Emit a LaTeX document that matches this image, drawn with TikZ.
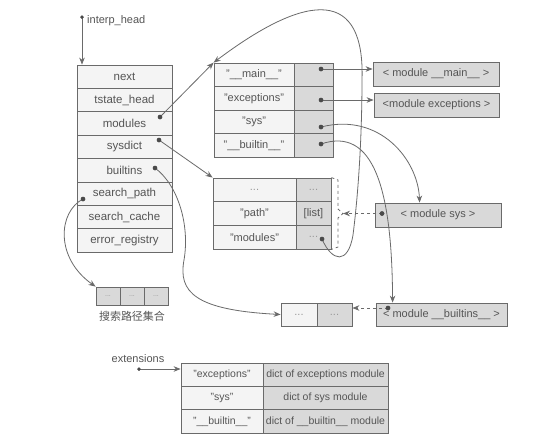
\documentclass[tikz,border=0pt]{standalone}
\usepackage{fontspec}
\setmainfont{Liberation Sans}
\newfontfamily\cjk{Noto Sans CJK SC}
\usetikzlibrary{arrows.meta}
\definecolor{linec}{HTML}{6A6A6A}
\definecolor{cellg}{HTML}{D9D9D9}
\definecolor{cellw}{HTML}{F4F4F4}
\definecolor{txt}{HTML}{555555}
\definecolor{dotc}{HTML}{4A4A4A}
\begin{document}
\begin{tikzpicture}[x=1pt,y=-1pt,
  cell/.style={draw=linec, line width=0.8pt, fill=cellw, inner sep=0pt, text=txt,
    font=\fontsize{11}{12}\selectfont},
  gcell/.style={cell, fill=cellg},
  ls/.style={cell, minimum width=95pt, minimum height=23.4pt, font=\fontsize{11.5}{12}\selectfont},
  mk/.style={cell, minimum width=80pt, minimum height=23.5pt},
  mv/.style={gcell, minimum width=39pt, minimum height=23.5pt},
  sk/.style={cell, minimum width=83pt, minimum height=23.67pt},
  sv/.style={gcell, minimum width=35pt, minimum height=23.67pt},
  modbox/.style={gcell, minimum height=24pt},
  sacell/.style={gcell, minimum width=24pt, minimum height=18pt, font=\fontsize{7}{8}\selectfont, text=txt!60},
  ek/.style={cell, minimum width=82pt, minimum height=23.33pt, font=\fontsize{10.5}{12}\selectfont},
  ev/.style={gcell, minimum width=125pt, minimum height=23.33pt, font=\fontsize{10.5}{12}\selectfont},
  dotn/.style={circle, fill=dotc, inner sep=0pt, minimum size=4.5pt},
  sdot/.style={circle, fill=dotc, inner sep=0pt, minimum size=3.5pt},
  lbl/.style={text=txt, font=\fontsize{11}{12}\selectfont, inner sep=0pt},
  arr/.style={draw=linec, line width=0.8pt, -{Stealth[length=7pt,width=5.5pt]}},
  darr/.style={arr, dashed},
]
\useasboundingbox[fill=white] (0,0) rectangle (547,445);

% interp head struct
\node[ls] (n1) at (124.5,76.7) {next};
\node[ls] (n2) at (124.5,100.1) {tstate\_head};
\node[ls] (n3) at (124.5,123.5) {modules};
\node[ls] (n4) at (124.5,146.9) {sysdict};
\node[ls] (n5) at (124.5,170.3) {builtins};
\node[ls] (n6) at (124.5,193.7) {search\_path};
\node[ls] (n7) at (124.5,217.1) {search\_cache};
\node[ls] (n8) at (124.5,240.5) {error\_registry};

\node[sdot] (ih) at (82,17) {};
\node[lbl, anchor=west] (ihl) at (87,21) {interp\_head};

% modules dict
\node[mk] (k1) at (254,74.75) {"\_\_main\_\_"};
\node[mk] (k2) at (254,98.25) {"exceptions"};
\node[mk] (k3) at (254,121.75) {"sys"};
\node[mk] (k4) at (254,145.25) {"\_\_builtin\_\_"};
\node[mv] (v1) at (313.5,74.75) {};
\node[mv] (v2) at (313.5,98.25) {};
\node[mv] (v3) at (313.5,121.75) {};
\node[mv] (v4) at (313.5,145.25) {};

% module objects
\node[modbox, minimum width=126pt] (mmain) at (436,74) {< module \_\_main\_\_ >};
\node[modbox, minimum width=125pt] (mexc) at (436.5,105) {<module exceptions >};
\node[modbox, minimum width=126pt] (msys) at (438,215) {< module sys >};
\node[modbox, minimum width=131pt, minimum height=23pt] (mblt) at (441.5,314.5) {< module \_\_builtins\_\_ >};

% sysdict
\node[sk] (s1k) at (254.5,189.8) {\textcolor{txt!60}{...}};
\node[sk] (s2k) at (254.5,213.5) {"path"};
\node[sk] (s3k) at (254.5,237.2) {"modules"};
\node[sv] (s1v) at (313.5,189.8) {\textcolor{txt!60}{...}};
\node[sv] (s2v) at (313.5,213.5) {[list]};
\node[sv] (s3v) at (313.5,237.2) {\textcolor{txt!60}{...}};

% builtins small dict
\node[cell, minimum width=36pt, minimum height=23pt] (bl) at (299,314.5) {\textcolor{txt!60}{...}};
\node[gcell, minimum width=35pt, minimum height=23pt] (br) at (334.5,314.5) {\textcolor{txt!60}{...}};

% search path array
\node[sacell] (sa1) at (108,296) {...};
\node[sacell] (sa2) at (132,296) {...};
\node[sacell] (sa3) at (156,296) {...};
\node[text=txt, inner sep=0pt, font=\cjk\fontsize{11}{12}\selectfont] (sal) at (132,316) {搜索路径集合};

% extensions
\node[lbl] (extl) at (138,359) {extensions};
\node[sdot] (edot) at (139,369) {};
\node[ek] (e1k) at (222,374.7) {"exceptions"};
\node[ek] (e2k) at (222,398) {"sys"};
\node[ek] (e3k) at (222,421.3) {"\_\_builtin\_\_"};
\node[ev] (e1v) at (325.5,374.7) {dict of exceptions module};
\node[ev] (e2v) at (325.5,398) {dict of sys module};
\node[ev] (e3v) at (325.5,421.3) {dict of \_\_builtin\_\_ module};

% dots
\node[dotn] (lmod) at (160,117) {};
\node[dotn] (lsys) at (159,140) {};
\node[dotn] (lblt) at (155,168) {};
\node[dotn] (lsp) at (83,199) {};
\node[dotn] (dm1) at (321,69) {};
\node[dotn] (dm2) at (321,100) {};
\node[dotn] (dm3) at (321,127) {};
\node[dotn] (dm4) at (321,144) {};
\node[dotn] (dsmod) at (322,239) {};
\node[dotn] (dsys) at (382,213.5) {};
\node[dotn] (dblt) at (388,308) {};
\coordinate (btip) at (343,213.5);

% connectors
\draw[arr] (ih.center) -- (ih |- n1.north);
\draw[arr] (lmod.center) -- (k1.north west);
\draw[arr] (lsys.center) -- (s1k.north west);
\draw[arr] (dm1.center) -- (dm1 -| mmain.west);
\draw[arr] (dm2.center) -- (dm2 -| mexc.west);
\draw[arr] (dm3.center) .. controls (380,112) and (418,160) .. ([xshift=45pt]msys.north west);
\draw[arr] (dm4.center) .. controls (374,126) and (392,190) .. ([xshift=17pt]mblt.north west);
\draw[arr] (dsmod.center) .. controls (332,262) and (348,265) .. (353,235)
   .. controls (360,180) and (362,120) .. (362,80)
   .. controls (365,-10) and (310,-10) .. (k1.north west);
\draw[arr] (lblt.center) .. controls (178,185) and (190,225) .. (184,260)
   .. controls (178,292) and (195,310) .. (bl.west);
\draw[arr] (lsp.center) .. controls (58,212) and (55,258) .. (sa1.north west);
\draw[draw=linec, line width=0.8pt, dashed] (s1v.north east) -- (338,180) -- (338,209) -- (btip)
   -- (338,218) -- (338,247) -- (s3v.south east);
\draw[darr] (dsys.center) -- (btip);
\draw[darr] (dblt.center) -- (dblt -| br.east);
\draw[arr] (edot.center) -- (edot -| e1k.west);

% redraw dots on top
\foreach \d in {lmod,lsys,lblt,lsp,dm1,dm2,dm3,dm4,dsmod,dsys,dblt}{\fill[dotc] (\d) circle (2.25pt);}
\fill[dotc] (ih) circle (1.75pt);
\fill[dotc] (edot) circle (1.75pt);
\end{tikzpicture}
\end{document}
